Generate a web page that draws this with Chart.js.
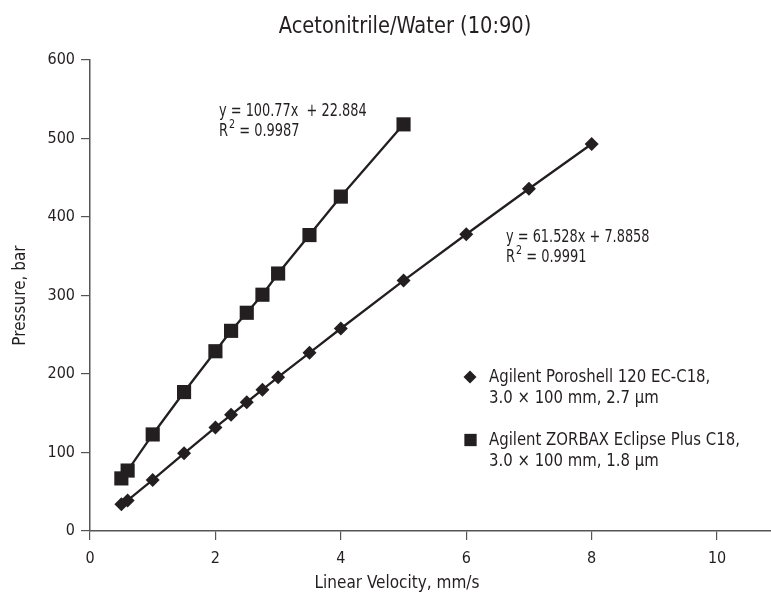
<!DOCTYPE html>
<html>
<head>
<meta charset="utf-8">
<script src="https://cdn.jsdelivr.net/npm/chart.js@4/dist/chart.umd.min.js"></script>
<style>
  html, body { margin: 0; padding: 0; background: #fff; }
</style>
</head>
<body>
<div style="width:771px;height:594px;position:relative">
  <canvas id="chart"></canvas>
</div>
<script>
const FONT = "'DejaVu Sans Condensed', 'Liberation Sans Narrow', sans-serif";
const INK = '#231f20';

// data
const poroshellVelocity = [0.5, 0.6, 1, 1.5, 2, 2.25, 2.5, 2.75, 3, 3.5, 4, 5, 6, 7, 8];
const poroshellPressure = [34, 39, 65, 99, 132, 148, 164, 180, 196, 227, 258, 319, 378, 436, 493];
const zorbaxVelocity = [0.5, 0.6, 1, 1.5, 2, 2.25, 2.5, 2.75, 3, 3.5, 4, 5];
const zorbaxPressure = [67, 77, 123, 177, 229, 255, 278, 301, 328, 377, 426, 518];
const xTicks = [0, 2, 4, 6, 8, 10];
const seriesNames = [
  ['Agilent Poroshell 120 EC-C18,', '3.0 × 100 mm, 2.7 µm'],
  ['Agilent ZORBAX Eclipse Plus C18,', '3.0 × 100 mm, 1.8 µm']
];
const fitEquations = ['y = 61.528x + 7.8858', 'y = 100.77x  + 22.884'];
const fitR2 = ['0.9991', '0.9987'];

const toPoints = (xs, ys) => xs.map((x, i) => ({ x: x, y: ys[i] }));

// the original font is a narrow one, so squeeze the text a bit
function narrowText(ctx, text, x, y, size, sx, align) {
  ctx.save();
  ctx.font = size + 'px ' + FONT;
  ctx.textAlign = align || 'left';
  ctx.translate(x, y);
  ctx.scale(sx, 1);
  ctx.fillText(text, 0, 0);
  const w = ctx.measureText(text).width * sx;
  ctx.restore();
  return w;
}

const textPlugin = {
  id: 'chartText',
  afterDraw(chart) {
    const ctx = chart.ctx;
    ctx.save();
    ctx.fillStyle = INK;
    ctx.textBaseline = 'middle';

    narrowText(ctx, 'Acetonitrile/Water (10:90)', 405, 27, 23, 0.94, 'center');
    narrowText(ctx, 'Linear Velocity, mm/s', 397, 584, 17, 1, 'center');

    // regression labels
    const fitPos = [[506, 237], [219, 111]];
    fitPos.forEach((p, i) => {
      narrowText(ctx, fitEquations[i], p[0], p[1], 18.5, 0.775);
      const y2 = p[1] + 20.5;
      let x = p[0];
      x += narrowText(ctx, 'R', x, y2, 18.5, 0.78);
      x += narrowText(ctx, '2', x + 1, y2 - 7, 12.5, 0.85) + 1;
      narrowText(ctx, ' = ' + fitR2[i], x, y2, 18.5, 0.78);
    });

    // legend
    const legendPos = [[470, 377], [470.5, 440]];
    chart.data.datasets.forEach((ds, i) => {
      const p = legendPos[i];
      ctx.fillStyle = INK;
      Chart.helpers.drawPoint(ctx, {
        pointStyle: ds.pointStyle,
        radius: ds.pointStyle === 'rect' ? 8.7 : 6.5,
        borderWidth: 0
      }, p[0], p[1]);
      narrowText(ctx, seriesNames[i][0], 489, p[1], 18, 0.92);
      narrowText(ctx, seriesNames[i][1], 489, p[1] + 21.5, 18, 0.92);
    });
    ctx.restore();
  }
};

new Chart(document.getElementById('chart'), {
  type: 'scatter',
  data: {
    datasets: [
      {
        label: seriesNames[0].join(' '),
        data: toPoints(poroshellVelocity, poroshellPressure),
        showLine: true,
        borderColor: INK,
        borderWidth: 2.3,
        backgroundColor: INK,
        pointStyle: 'rectRot',
        pointRadius: 7,
        pointBorderWidth: 0
      },
      {
        label: seriesNames[1].join(' '),
        data: toPoints(zorbaxVelocity, zorbaxPressure),
        showLine: true,
        borderColor: INK,
        borderWidth: 2.3,
        backgroundColor: INK,
        pointStyle: 'rect',
        pointRadius: 10,
        pointBorderWidth: 0
      }
    ]
  },
  options: {
    responsive: true,
    maintainAspectRatio: false,
    animation: false,
    layout: { autoPadding: false, padding: { top: 60, left: 0, right: 0, bottom: 0 } },
    plugins: {
      legend: { display: false },
      title: { display: false },
      tooltip: { enabled: false }
    },
    scales: {
      x: {
        type: 'linear',
        min: 0,
        max: 10.86,
        afterBuildTicks: scale => { scale.ticks = xTicks.map(v => ({ value: v })); },
        afterFit: scale => { scale.height = 63; scale.paddingLeft = 0; scale.paddingRight = 0; },
        border: { display: true, color: '#555', width: 1.5 },
        grid: { display: true, drawOnChartArea: false, drawTicks: true, tickLength: 9, color: '#555', lineWidth: 1.2 },
        ticks: { color: INK, font: { family: FONT, size: 16 }, padding: 9, maxRotation: 0 }
      },
      y: {
        min: 0,
        max: 600,
        afterFit: scale => { scale.width = 90; },
        border: { display: true, color: '#555', width: 1.5 },
        grid: { display: true, drawOnChartArea: false, drawTicks: true, tickLength: 9, color: '#555', lineWidth: 1.2 },
        ticks: { stepSize: 100, color: INK, font: { family: FONT, size: 16 }, padding: 6 },
        title: { display: true, text: 'Pressure, bar', color: INK, font: { family: FONT, size: 17 }, padding: { top: 10, bottom: 0 } }
      }
    }
  },
  plugins: [textPlugin]
});
</script>
</body>
</html>
